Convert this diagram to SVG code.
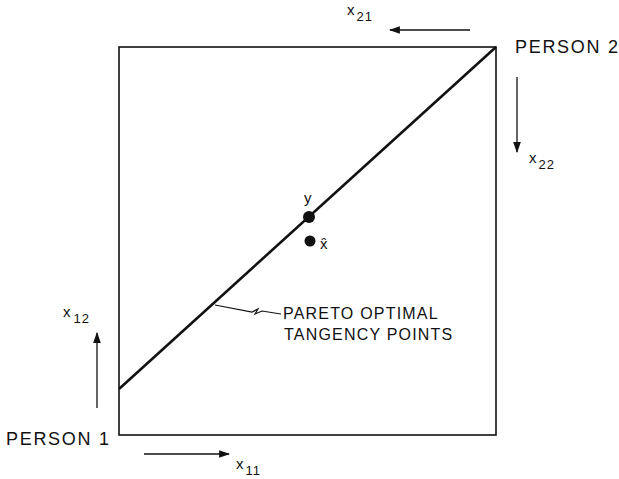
<svg xmlns="http://www.w3.org/2000/svg" width="619" height="479" viewBox="0 0 619 479">
<style>
.t{font-family:"Liberation Sans",Arial,sans-serif;fill:#111;font-size:16px;letter-spacing:1.2px}
.p{font-family:"Liberation Sans",Arial,sans-serif;fill:#111;font-size:18px;letter-spacing:1.7px}
.s{font-family:"Liberation Sans",Arial,sans-serif;fill:#111;font-size:15px}
.sub{font-size:13px;letter-spacing:1px}
.ln{stroke:#111;fill:none}
</style>
<defs>
<marker id="ah" viewBox="0 0 10 10" refX="9" refY="5" markerWidth="11" markerHeight="11" markerUnits="userSpaceOnUse" orient="auto">
<path d="M0,1.5 L10,5 L0,8.5 Z" fill="#111"/>
</marker>
</defs>
<rect fill="#fff" width="619" height="479"/>
<g id="box"><rect x="119" y="47" width="377" height="388" class="ln" stroke-width="1.6"/></g>
<g id="connectors">
<line x1="119" y1="389" x2="496" y2="47" class="ln" stroke-width="2.6"/>
<polyline points="215,305 252,312 258,309 255,314 262,311 281,314" class="ln" stroke-width="1.2"/>
<line x1="470" y1="30" x2="390" y2="30" class="ln" stroke-width="1.3" marker-end="url(#ah)"/>
<line x1="517" y1="77" x2="517" y2="152" class="ln" stroke-width="1.3" marker-end="url(#ah)"/>
<line x1="97" y1="408" x2="97" y2="333" class="ln" stroke-width="1.3" marker-end="url(#ah)"/>
<line x1="144" y1="454" x2="229" y2="454" class="ln" stroke-width="1.3" marker-end="url(#ah)"/>
</g>
<g id="point-y">
<circle cx="309" cy="217" r="6" fill="#111"/>
<text x="304" y="203" class="s" font-size="16">y</text>
</g>
<g id="point-xhat">
<circle cx="310" cy="241" r="5.5" fill="#111"/>
<text x="320" y="249" class="s" font-size="16">x̂</text>
</g>
<g id="person2"><text x="515" y="53" class="p">PERSON 2</text></g>
<g id="person1"><text x="6" y="445" class="p">PERSON 1</text></g>
<g id="pareto-label">
<text x="283" y="319" class="t">PARETO OPTIMAL</text>
<text x="284" y="340" class="t">TANGENCY POINTS</text>
</g>
<g id="x21"><text x="347" y="15" class="s">x<tspan class="sub" dx="2" dy="6">21</tspan></text></g>
<g id="x22"><text x="529" y="163" class="s">x<tspan class="sub" dx="2" dy="6">22</tspan></text></g>
<g id="x12"><text x="63" y="317" class="s">x<tspan class="sub" dx="3" dy="6">12</tspan></text></g>
<g id="x11"><text x="236" y="469" class="s">x<tspan class="sub" dx="2" dy="6">11</tspan></text></g>
</svg>
